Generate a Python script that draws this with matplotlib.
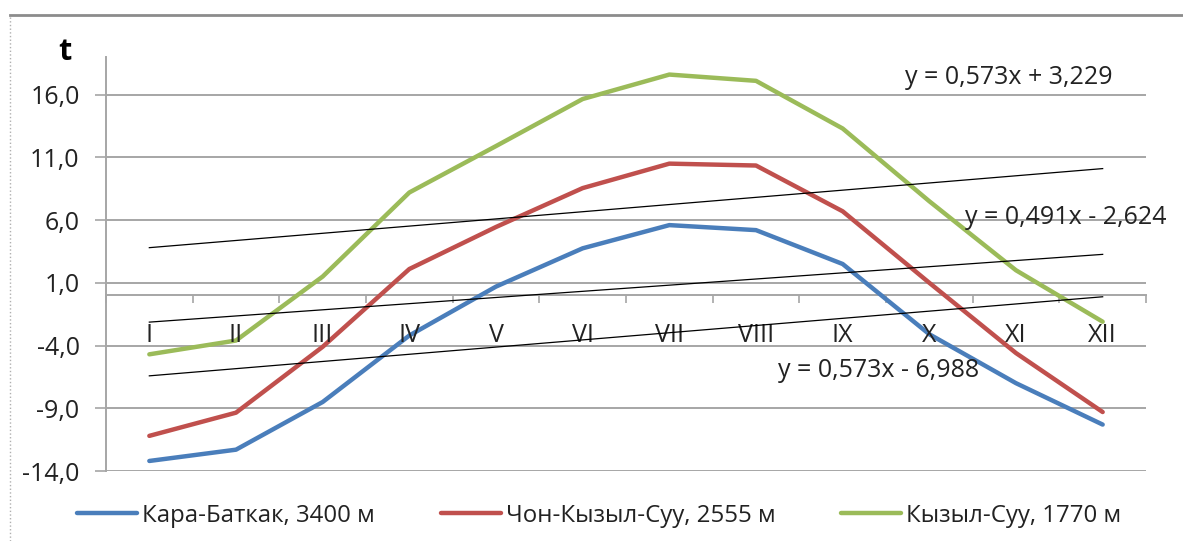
import numpy as np
import matplotlib
matplotlib.use("Agg")
import matplotlib.pyplot as plt
from matplotlib.lines import Line2D

plt.rcParams['font.family'] = ['Open Sans', 'DejaVu Sans']

# months (roman numerals) and mean monthly temperature per station
months = ["I", "II", "III", "IV", "V", "VI", "VII", "VIII", "IX", "X", "XI", "XII"]
kara_batkak = [-13.2, -12.3, -8.5, -3.2, 0.7, 3.75, 5.6, 5.2, 2.5, -3.1, -7.0, -10.3]
chon_kyzyl_suu = [-11.2, -9.35, -4.1, 2.1, 5.45, 8.55, 10.5, 10.35, 6.7, 1.0, -4.6, -9.3]
kyzyl_suu = [-4.7, -3.6, 1.5, 8.2, 11.9, 15.65, 17.6, 17.1, 13.3, 7.5, 2.0, -2.1]

series_names = ["Кара-Баткак, 3400 м", "Чон-Кызыл-Суу, 2555 м", "Кызыл-Суу, 1770 м"]
colors = ["#4a7ebb", "#c0504d", "#9bbb59"]

# linear trendlines as printed on the chart (slope, intercept)
trend_slopes = [0.573, 0.491, 0.573]
trend_intercepts = [3.229, -2.624, -6.988]
trend_labels = ["y = 0,573x + 3,229", "y = 0,491x - 2,624", "y = 0,573x - 6,988"]

y_ticks = [-14, -9, -4, 1, 6, 11, 16]
y_tick_labels = ["-14,0", "-9,0", "-4,0", "1,0", "6,0", "11,0", "16,0"]

TXT = "#222222"

fig = plt.figure(figsize=(11.83, 5.41), dpi=100)
ax = fig.add_axes([106 / 1183, 1 - 471 / 541, (1146 - 106) / 1183, (471 - 57) / 541])

x = np.arange(1, len(months) + 1)
for vals, name, c in zip([kara_batkak, chon_kyzyl_suu, kyzyl_suu], series_names, colors):
    ax.plot(x, vals, color=c, lw=3.2, label=name, solid_capstyle='round', zorder=3)

# trendlines
for k, b in zip(trend_slopes, trend_intercepts):
    ax.plot(x[[0, -1]], k * x[[0, -1]] + b, color="black", lw=0.9, zorder=4)

ax.text(9.72, 17.35, trend_labels[0], fontsize=18, va='center', ha='left', color=TXT)
ax.text(10.41, 6.2, trend_labels[1], fontsize=18, va='center', ha='left', color=TXT)
ax.text(8.25, -6.0, trend_labels[2], fontsize=18, va='center', ha='left', color=TXT)

ax.set_xlim(0.5, 12.5)
ax.set_ylim(-14, 19)

# y axis
ax.set_yticks(y_ticks)
ax.set_yticklabels(y_tick_labels, fontsize=18, color=TXT)
ax.yaxis.grid(True, color="#a6a6a6", lw=1.4, zorder=0)
ax.tick_params(axis='y', direction='out', length=8, width=1.2, color="#a6a6a6", pad=11)

# x axis crosses at zero, ticks between categories
ax.spines['bottom'].set_position(('data', 0))
ax.spines['bottom'].set_color("#a6a6a6")
ax.spines['bottom'].set_linewidth(1.4)
ax.spines['left'].set_color("#a6a6a6")
ax.spines['left'].set_linewidth(1.4)
ax.spines['top'].set_visible(False)
ax.spines['right'].set_visible(False)
ax.set_xticks(np.arange(0.5, 13, 1))
ax.set_xticklabels([])
ax.tick_params(axis='x', direction='out', length=6, width=1.2, color="#a6a6a6")
for xi, m in zip(x, months):
    ax.text(xi, -3.2, m, ha='center', va='center', fontsize=18, color=TXT)

fig.text(65 / 1183, 1 - 52 / 541, "t", fontsize=22, fontweight='bold',
         ha='center', va='center')

leg = fig.legend(loc='center', bbox_to_anchor=(0.5065, 0.047), ncol=3, frameon=False,
                 fontsize=17.3, handlelength=2.5, handletextpad=0.2, columnspacing=2.75)
for t in leg.get_texts():
    t.set_color(TXT)

# outer chart border (top solid, left dotted)
fig.add_artist(Line2D([10 / 1183, 1.0], [1 - 15 / 541] * 2, transform=fig.transFigure,
                      color="#8c8c8c", lw=2))
fig.add_artist(Line2D([10 / 1183] * 2, [0, 1 - 15 / 541], transform=fig.transFigure,
                      color="#b0b0b0", lw=1, ls=':'))

fig.savefig("out.png", dpi=100)
